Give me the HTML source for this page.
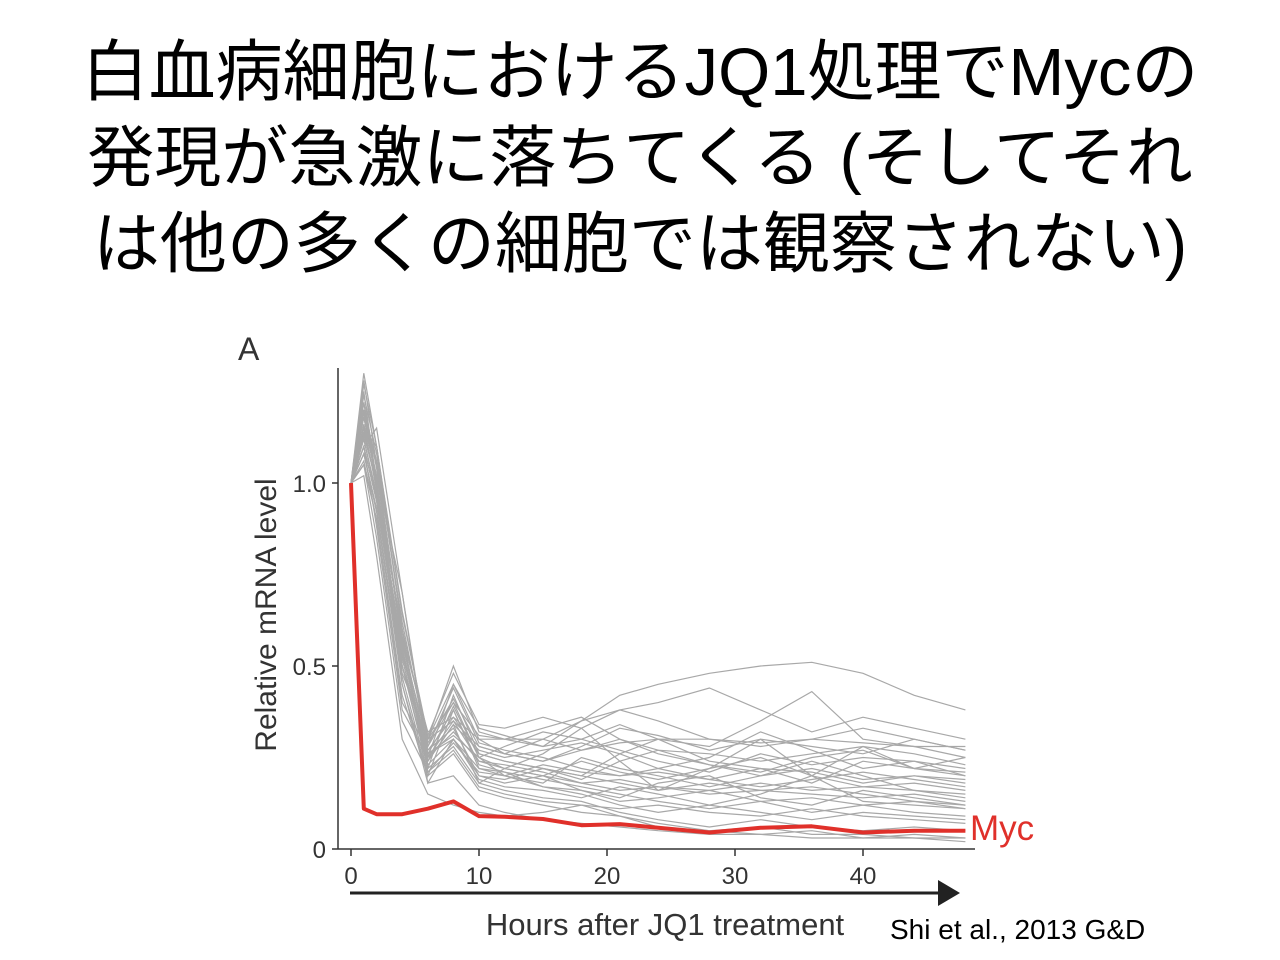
<!DOCTYPE html>
<html><head><meta charset="utf-8">
<style>
body{margin:0;background:#fff;width:1280px;height:960px;overflow:hidden;position:relative;font-family:"Liberation Sans","Noto Sans CJK JP",sans-serif}
#title{position:absolute;left:0;top:30px;width:1280px;text-align:center;font-size:67px;line-height:86px;color:#000;font-family:"Liberation Sans","Noto Sans CJK JP",sans-serif;white-space:nowrap}
#cite{position:absolute;left:890px;top:914px;font-size:28px;color:#000}
svg{position:absolute;left:0;top:0}
</style></head><body>
<div id="title">白血病細胞におけるJQ1処理でMycの<br>発現が急激に落ちてくる (そしてそれ<br>は他の多くの細胞では観察されない)</div>
<div id="cite">Shi et al., 2013 G&amp;D</div>
<svg id="chart" width="1280" height="960"></svg>
<script>
const times=[0,1,2,4,6,8,10,12,15,18,21,24,28,32,36,40,44,48];
const xTicks=[0,10,20,30,40];
const yTicks=[0,0.5,1.0];
const yTickLabels=["0","0.5","1.0"];
const myc=[1.0,0.11,0.095,0.095,0.11,0.13,0.09,0.088,0.082,0.065,0.068,0.058,0.045,0.058,0.062,0.045,0.05,0.05];
const g1=[1.0,1.3,1.1,0.6,0.3,0.5,0.32,0.3,0.28,0.35,0.42,0.45,0.48,0.5,0.51,0.48,0.42,0.38];
const g2=[1.0,1.28,1.05,0.55,0.25,0.45,0.3,0.26,0.3,0.35,0.38,0.4,0.44,0.38,0.32,0.36,0.33,0.3];
const g3=[1.0,1.2,1.0,0.5,0.28,0.4,0.25,0.28,0.32,0.3,0.34,0.3,0.28,0.35,0.43,0.3,0.28,0.25];
const g4=[1.0,1.15,1.1,0.65,0.3,0.35,0.28,0.26,0.24,0.28,0.33,0.31,0.27,0.3,0.28,0.26,0.3,0.27];
const g5=[1.0,1.1,0.95,0.5,0.22,0.42,0.26,0.24,0.22,0.2,0.26,0.3,0.24,0.22,0.18,0.24,0.22,0.2];
const g6=[1.0,1.25,1.0,0.45,0.2,0.38,0.22,0.2,0.18,0.25,0.22,0.2,0.17,0.2,0.24,0.2,0.16,0.15];
const g7=[1.0,1.05,0.9,0.4,0.27,0.33,0.2,0.18,0.2,0.16,0.14,0.18,0.2,0.14,0.12,0.16,0.14,0.12];
const g8=[1.0,1.18,1.02,0.58,0.32,0.36,0.3,0.3,0.3,0.27,0.29,0.3,0.3,0.29,0.3,0.29,0.28,0.28];
const g9=[1.0,1.1,1.15,0.7,0.26,0.3,0.22,0.21,0.17,0.15,0.12,0.1,0.12,0.1,0.08,0.1,0.09,0.08];
const g10=[1.0,1.22,1.0,0.52,0.24,0.34,0.27,0.25,0.27,0.29,0.26,0.22,0.25,0.32,0.27,0.22,0.24,0.22];
const g11=[1.0,1.08,0.92,0.45,0.18,0.3,0.19,0.17,0.16,0.14,0.17,0.15,0.12,0.15,0.2,0.13,0.12,0.11];
const g12=[1.0,1.16,0.98,0.48,0.3,0.4,0.31,0.3,0.33,0.36,0.3,0.27,0.26,0.24,0.26,0.28,0.26,0.23];
const g13=[1.0,1.12,0.96,0.55,0.22,0.28,0.18,0.16,0.14,0.13,0.1,0.08,0.06,0.08,0.06,0.05,0.06,0.05];
const g14=[1.0,1.2,1.06,0.62,0.28,0.44,0.29,0.27,0.25,0.22,0.2,0.22,0.19,0.17,0.19,0.21,0.19,0.17];
const g15=[1.0,1.1,0.88,0.38,0.25,0.32,0.24,0.22,0.2,0.24,0.21,0.19,0.22,0.25,0.2,0.17,0.18,0.16];
const g16=[1.0,1.14,1.0,0.58,0.26,0.38,0.23,0.21,0.19,0.17,0.15,0.13,0.11,0.13,0.14,0.12,0.1,0.09];
const g17=[1.0,1.24,1.08,0.6,0.3,0.45,0.33,0.31,0.28,0.3,0.27,0.24,0.21,0.26,0.23,0.25,0.24,0.2];
const g18=[1.0,1.06,0.9,0.42,0.2,0.26,0.16,0.14,0.12,0.1,0.09,0.07,0.05,0.06,0.04,0.04,0.03,0.03];
const g19=[1.0,1.18,1.0,0.53,0.27,0.36,0.26,0.24,0.22,0.19,0.24,0.27,0.23,0.2,0.22,0.19,0.2,0.19];
const g20=[1.0,1.1,0.95,0.5,0.23,0.3,0.2,0.19,0.22,0.2,0.18,0.16,0.18,0.16,0.15,0.14,0.15,0.13];
const g21=[1.0,1.22,1.04,0.56,0.29,0.41,0.28,0.26,0.24,0.27,0.3,0.26,0.23,0.21,0.25,0.27,0.22,0.21];
const g22=[1.0,1.08,0.93,0.47,0.21,0.27,0.17,0.15,0.13,0.12,0.11,0.12,0.1,0.09,0.11,0.09,0.08,0.07];
const g23=[1.0,1.15,0.99,0.54,0.25,0.35,0.24,0.23,0.21,0.18,0.19,0.17,0.16,0.18,0.16,0.17,0.16,0.14];
const g24=[1.0,1.12,0.97,0.6,0.18,0.2,0.12,0.1,0.08,0.07,0.06,0.05,0.04,0.04,0.03,0.03,0.03,0.02];
const g25=[1.0,1.27,1.1,0.64,0.31,0.48,0.34,0.33,0.36,0.33,0.38,0.35,0.3,0.28,0.3,0.33,0.3,0.27];
const g26=[1.0,1.05,0.85,0.35,0.21,0.29,0.21,0.2,0.17,0.16,0.13,0.14,0.16,0.13,0.1,0.12,0.13,0.11];
const g27=[1.0,1.13,1.0,0.5,0.26,0.31,0.25,0.2,0.23,0.21,0.2,0.21,0.19,0.22,0.21,0.18,0.2,0.18];
const g28=[1.0,1.19,1.05,0.57,0.24,0.39,0.25,0.22,0.2,0.18,0.16,0.17,0.15,0.16,0.17,0.15,0.13,0.12];
const g29=[1.0,1.02,0.8,0.3,0.15,0.12,0.1,0.09,0.1,0.12,0.09,0.06,0.05,0.04,0.05,0.03,0.04,0.03];
const g30=[1.0,1.16,1.02,0.7,0.24,0.34,0.18,0.22,0.26,0.33,0.24,0.16,0.22,0.3,0.2,0.28,0.22,0.25];
const gray=[g1,g2,g3,g4,g5,g6,g7,g8,g9,g10,g11,g12,g13,g14,g15,g16,g17,g18,g19,g20,g21,g22,g23,g24,g25,g26,g27,g28,g29,g30];

const NS="http://www.w3.org/2000/svg";
const svg=document.getElementById('chart');
const X=t=>351+t*12.8;
const Y=v=>849-v*366;
const F='Liberation Sans, sans-serif';
function mk(tag,attrs,parent){const e=document.createElementNS(NS,tag);for(const k in attrs)e.setAttribute(k,attrs[k]);(parent||svg).appendChild(e);return e;}
function pts(arr){return arr.map((v,i)=>X(times[i]).toFixed(1)+','+Y(v).toFixed(1)).join(' ');}

gray.forEach((s,i)=>{
  const p=mk('polyline',{points:pts(s),fill:'none',stroke:'#a8a8a8','stroke-width':1.2});
  
  
});
const m=mk('polyline',{points:pts(myc),fill:'none',stroke:'#e0302a','stroke-width':4,'stroke-linejoin':'round'});



const ya=mk('line',{x1:338,y1:368,x2:338,y2:849,stroke:'#333','stroke-width':1.5});


const xa=mk('line',{x1:338,y1:849,x2:975,y2:849,stroke:'#333','stroke-width':1.5});


yTicks.forEach((v,i)=>{
  mk('line',{x1:332,y1:Y(v),x2:338,y2:Y(v),stroke:'#333','stroke-width':1.5});
  const t=mk('text',{x:326,y:Y(v)+9,'text-anchor':'end','font-size':24,fill:'#333','font-family':F});
  t.textContent=yTickLabels[i];
  
  
});
xTicks.forEach(v=>{
  mk('line',{x1:X(v),y1:849,x2:X(v),y2:856,stroke:'#333','stroke-width':1.5});
  const t=mk('text',{x:X(v),y:884,'text-anchor':'middle','font-size':24,fill:'#333','font-family':F});
  t.textContent=v;
  
  
});
const ar=mk('line',{x1:350,y1:893,x2:942,y2:893,stroke:'#222','stroke-width':3});


mk('polygon',{points:'938,880 960,893 938,906',fill:'#222'});
const xl=mk('text',{x:665,y:935,'text-anchor':'middle','font-size':31,fill:'#333','font-family':F});
xl.textContent='Hours after JQ1 treatment';


const yl=mk('text',{x:0,y:0,'text-anchor':'middle','font-size':30,fill:'#333','font-family':F,transform:'translate(276,615) rotate(-90)'});
yl.textContent='Relative mRNA level';


const pa=mk('text',{x:238,y:360,'font-size':32,fill:'#333','font-family':F});
pa.textContent='A';


const ml=mk('text',{x:970,y:840,'font-size':35,fill:'#e0302a','font-family':F});
ml.textContent='Myc';


</script>
</body></html>
